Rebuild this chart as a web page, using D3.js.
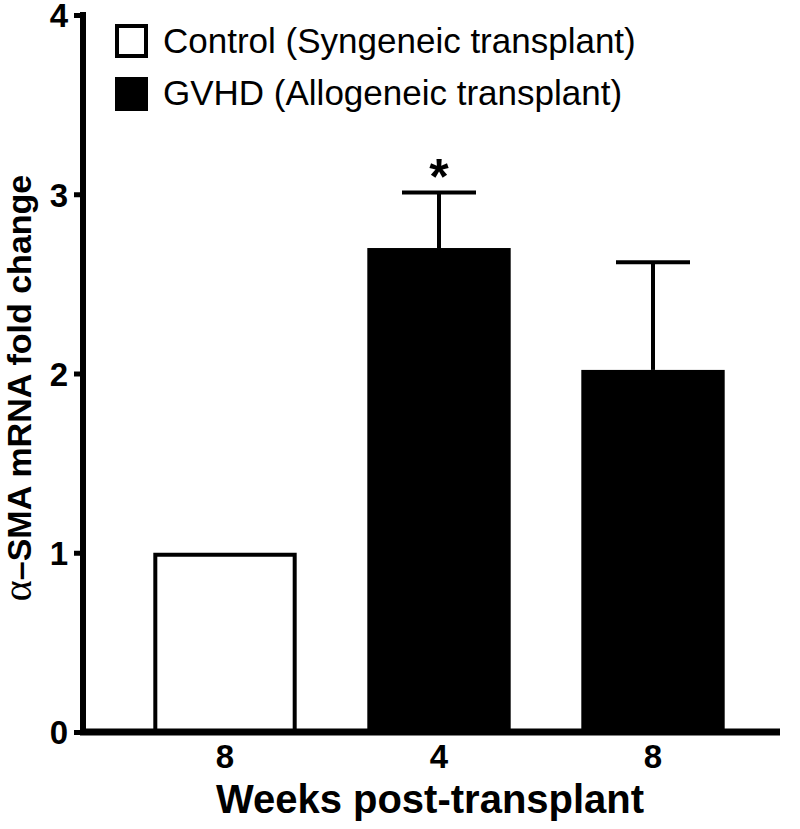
<!DOCTYPE html>
<html>
<head>
<meta charset="utf-8">
<script src="https://cdn.jsdelivr.net/npm/d3@7"></script>
<style>
  html, body { margin: 0; padding: 0; background: #fff; }
  svg { display: block; }
</style>
</head>
<body>
<svg id="chart" width="800" height="829"></svg>
<script>
// ---- data ----
const categories = ["8", "4", "8"];
const groups = ["Control", "GVHD", "GVHD"];
const values = [1.0, 2.70, 2.02];
const errors = [0, 0.31, 0.60];
const significance = ["", "*", ""];
const yTicks = [0, 1, 2, 3, 4];
const legendLabels = ["Control (Syngeneic transplant)", "GVHD (Allogeneic transplant)"];
const legendKeys = ["Control", "GVHD"];
const xTitle = "Weeks post-transplant";
const yTitleAlpha = "\u03B1";
const yTitleRest = "\u2013SMA mRNA fold change";

// ---- layout ----
const svg = d3.select("#chart");
const axisX = 83, axisY0 = 732, axisTop = 15, axisRight = 780;
const fill = d3.scaleOrdinal().domain(legendKeys).range(["#ffffff", "#000000"]);

const y = d3.scaleLinear().domain([0, 4]).range([axisY0, axisTop]);
const x = d3.scaleBand().domain(d3.range(categories.length))
  .range([118, 760]).paddingInner(0.33).paddingOuter(0.165);

// bars
const bars = svg.append("g");
bars.selectAll("rect").data(values).join("rect")
  .attr("x", (d, i) => x(i) + (groups[i] === "Control" ? 2 : 0))
  .attr("width", (d, i) => x.bandwidth() - (groups[i] === "Control" ? 4 : 0))
  .attr("y", (d, i) => y(d) + (groups[i] === "Control" ? 2 : 0))
  .attr("height", (d, i) => y(0) - y(d) - (groups[i] === "Control" ? 2 : 0))
  .attr("fill", (d, i) => fill(groups[i]))
  .attr("stroke", "#000")
  .attr("stroke-width", (d, i) => groups[i] === "Control" ? 4 : 0);

// error bars (upper only)
const eb = svg.append("g").attr("stroke", "#000").attr("stroke-width", 4);
values.forEach((v, i) => {
  if (!errors[i]) return;
  const cx = x(i) + x.bandwidth() / 2;
  eb.append("line").attr("x1", cx).attr("x2", cx).attr("y1", y(v)).attr("y2", y(v + errors[i]));
  eb.append("line").attr("x1", cx - 37).attr("x2", cx + 37).attr("y1", y(v + errors[i])).attr("y2", y(v + errors[i]));
  if (significance[i]) {
    svg.append("text").attr("x", cx).attr("y", y(v + errors[i]) + 2)
      .attr("text-anchor", "middle")
      .attr("font-family", "Liberation Sans, Arial, sans-serif")
      .attr("font-weight", "bold").attr("font-size", 50)
      .text(significance[i]);
  }
});

// y axis
const yAxis = d3.axisLeft(y).tickValues(yTicks).tickFormat(d3.format("d")).tickSize(9).tickPadding(6);
const gy = svg.append("g").attr("transform", `translate(${axisX},0)`).call(yAxis);
gy.select(".domain").remove();
gy.selectAll(".tick line").attr("stroke", "#000").attr("stroke-width", 5);
gy.selectAll(".tick text")
  .attr("font-family", "Liberation Sans, Arial, sans-serif")
  .attr("font-weight", "bold").attr("font-size", 33).attr("fill", "#000")
  .attr("dy", "0.36em");
svg.append("line").attr("x1", axisX).attr("x2", axisX).attr("y1", axisTop - 3).attr("y2", axisY0 + 3)
  .attr("stroke", "#000").attr("stroke-width", 6);

// x axis
const xAxis = d3.axisBottom(x).tickFormat(i => categories[i]).tickSize(0).tickPadding(13);
const gx = svg.append("g").attr("transform", `translate(0,${axisY0})`).call(xAxis);
gx.select(".domain").remove();
gx.selectAll(".tick text")
  .attr("font-family", "Liberation Sans, Arial, sans-serif")
  .attr("font-weight", "bold").attr("font-size", 33).attr("fill", "#000");
svg.append("line").attr("x1", axisX - 3).attr("x2", axisRight).attr("y1", axisY0).attr("y2", axisY0)
  .attr("stroke", "#000").attr("stroke-width", 7);

// axis titles
svg.append("text").attr("x", 430).attr("y", 813).attr("text-anchor", "middle")
  .attr("font-family", "Liberation Sans, Arial, sans-serif")
  .attr("font-weight", "bold").attr("font-size", 40).text(xTitle);

const yt = svg.append("text").attr("transform", "translate(31,388) rotate(-90)")
  .attr("text-anchor", "middle")
  .attr("font-family", "Liberation Sans, Arial, sans-serif")
  .attr("font-weight", "bold").attr("font-size", 34);
yt.append("tspan").attr("font-family", "Liberation Serif, Times New Roman, serif")
  .attr("font-weight", "normal").attr("font-size", 40).text(yTitleAlpha);
yt.append("tspan").text(yTitleRest);

// legend
const lg = svg.append("g");
legendKeys.forEach((k, i) => {
  const top = 25 + i * 52;
  lg.append("rect").attr("x", 117).attr("y", top + 1)
    .attr("fill", fill(k)).attr("stroke", "#000").attr("stroke-width", k === "Control" ? 4 : 0)
    .attr("transform", k === "Control" ? null : "translate(-2,-1)")
    .attr("width", k === "Control" ? 29 : 33).attr("height", k === "Control" ? 30 : 34);
  lg.append("text").attr("x", 163).attr("y", top + 16).attr("dy", "0.35em")
    .attr("font-family", "Liberation Sans, Arial, sans-serif").attr("font-size", 35)
    .text(legendLabels[i]);
});
</script>
</body>
</html>
